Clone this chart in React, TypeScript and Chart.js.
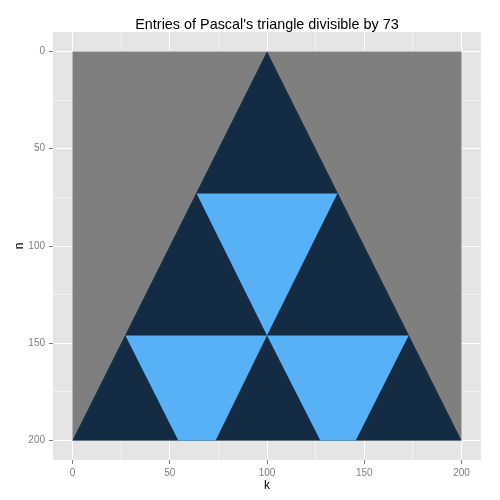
import React, { useEffect, useRef } from "react";
import { Chart, registerables } from "chart.js";

Chart.register(...registerables);

// Axis ticks (labelled) and grid positions
const xTickLabels = [0, 50, 100, 150, 200];
const nTickLabels = [0, 50, 100, 150, 200];
const gridValues = [0, 25, 50, 75, 100, 125, 150, 175, 200];

// Region polygons in (k-position, n) data coordinates
const outsideX = [0, 200, 200, 0, 0];
const outsideN = [0, 0, 200, 200, 0];

const triangleX = [100, 200, 0, 100];
const triangleN = [0, 200, 200, 0];

const upperDivX = [63.8, 136.2, 100, 63.8];
const upperDivN = [73, 73, 146, 73];

const lowerLeftDivX = [27.2, 100, 73.6, 54.4, 27.2];
const lowerLeftDivN = [146, 146, 200, 200, 146];

const lowerRightDivX = [100, 172.8, 145.6, 127.4, 100];
const lowerRightDivN = [146, 146, 200, 200, 146];

const COLOR_NA = "#7F7F7F";
const COLOR_LOW = "#132B43";
const COLOR_HIGH = "#56B1F7";

const toPts = (xs: number[], ns: number[]) => xs.map((x, i) => ({ x, y: ns[i] }));

const poly = (label: string, xs: number[], ns: number[], color: string, order: number) => ({
  label,
  data: toPts(xs, ns),
  showLine: true,
  fill: "shape" as const,
  backgroundColor: color,
  borderColor: color,
  borderWidth: 0,
  pointRadius: 0,
  pointHoverRadius: 0,
  order,
});

const panelBg = {
  id: "panelBg",
  beforeDraw(chart: any) {
    const { ctx, chartArea } = chart;
    ctx.save();
    ctx.fillStyle = "#E5E5E5";
    ctx.fillRect(chartArea.left, chartArea.top, chartArea.right - chartArea.left, chartArea.bottom - chartArea.top);
    ctx.restore();
  },
};

export default function App() {
  const ref = useRef<HTMLCanvasElement | null>(null);
  useEffect(() => {
    document.body.style.margin = "0";
    const canvas = ref.current!;
    const FONT = "'Liberation Sans', Arial, sans-serif";
    const gridColor = (ctx: any) =>
      ctx.tick && gridValues.indexOf(ctx.tick.value) % 2 === 0 ? "#FFFFFF" : "#F2F2F2";
    const tickColor = (ctx: any) =>
      ctx.tick && gridValues.indexOf(ctx.tick.value) % 2 === 0 ? "#7F7F7F" : "rgba(0,0,0,0)";
    const chart = new Chart(canvas, {
      type: "scatter",
      data: {
        datasets: [
          poly("upper", upperDivX, upperDivN, COLOR_HIGH, 0),
          poly("lowerLeft", lowerLeftDivX, lowerLeftDivN, COLOR_HIGH, 0),
          poly("lowerRight", lowerRightDivX, lowerRightDivN, COLOR_HIGH, 0),
          poly("triangle", triangleX, triangleN, COLOR_LOW, 1),
          poly("outside", outsideX, outsideN, COLOR_NA, 2),
        ],
      },
      options: {
        responsive: false,
        animation: false,
        devicePixelRatio: 1,
        layout: { padding: { left: 0, right: 19, top: 0, bottom: 0 } },
        plugins: {
          legend: { display: false },
          tooltip: { enabled: false },
          title: {
            display: true,
            text: "Entries of Pascal's triangle divisible by 73",
            color: "#000000",
            fullSize: false,
            font: { family: FONT, size: 14.4, weight: "normal", lineHeight: 1 },
            padding: { top: 17.6, bottom: 0 },
          },
        },
        scales: {
          x: {
            type: "linear",
            position: "bottom",
            min: -10,
            max: 210,
            afterBuildTicks: (s: any) => {
              s.ticks = gridValues.map((v) => ({ value: v }));
            },
            afterFit: (s: any) => {
              s.height = 40;
            },
            border: { display: false },
            grid: { color: gridColor, lineWidth: 1, drawTicks: true, tickLength: 4, tickColor, tickWidth: 1 },
            ticks: {
              color: "#7F7F7F",
              font: { family: FONT, size: 10 },
              padding: 3,
              autoSkip: false,
              maxRotation: 0,
              callback: (v: any) => (xTickLabels.includes(v) ? String(v) : ""),
            },
            title: {
              display: true,
              text: "k",
              color: "#000000",
              font: { family: FONT, size: 12 },
              padding: { top: 0, bottom: 6.8 },
            },
          },
          y: {
            type: "linear",
            reverse: true,
            min: -10,
            max: 210,
            afterBuildTicks: (s: any) => {
              s.ticks = gridValues.map((v) => ({ value: v }));
            },
            afterFit: (s: any) => {
              s.width = 53;
            },
            border: { display: false },
            grid: { color: gridColor, lineWidth: 1, drawTicks: true, tickLength: 4, tickColor, tickWidth: 1 },
            ticks: {
              color: "#7F7F7F",
              font: { family: FONT, size: 10 },
              padding: 4,
              autoSkip: false,
              callback: (v: any) => (nTickLabels.includes(v) ? String(v) : ""),
            },
            title: {
              display: true,
              text: "n",
              color: "#000000",
              font: { family: FONT, size: 12 },
              padding: { top: 12, bottom: 0 },
            },
          },
        },
      },
      plugins: [panelBg],
    } as any);
    return () => chart.destroy();
  }, []);
  return (
    <div style={{ position: "absolute", left: 0, top: 0, width: 500, height: 500 }}>
      <canvas ref={ref} width={500} height={500} style={{ display: "block" }} />
    </div>
  );
}
